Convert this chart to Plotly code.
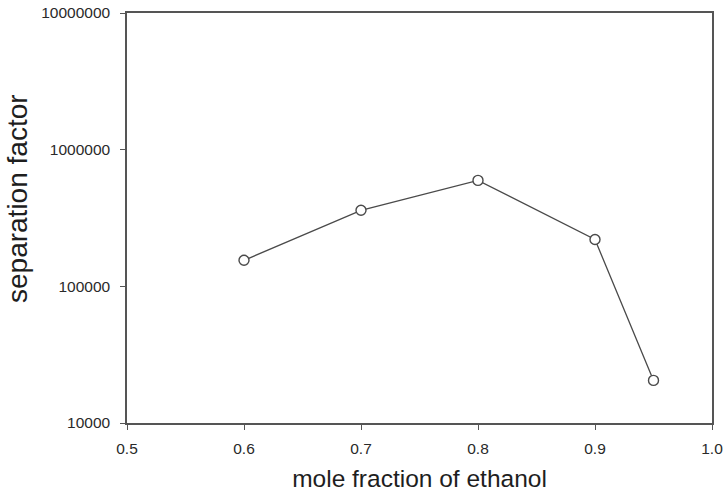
import plotly.graph_objects as go

# Data
mole_fraction = [0.6, 0.7, 0.8, 0.9, 0.95]
separation_factor = [155000, 360000, 596000, 220000, 20500]

x_ticks = [0.5, 0.6, 0.7, 0.8, 0.9, 1.0]
x_tick_labels = ["0.5", "0.6", "0.7", "0.8", "0.9", "1.0"]
y_ticks = [1e4, 1e5, 1e6, 1e7]
y_tick_labels = ["10000", "100000", "1000000", "10000000"]

x_title = "mole fraction of ethanol"
y_title = "separation factor"

FONT = "Liberation Sans, Arial, Helvetica, sans-serif"
AXIS_COLOR = "#555555"

fig = go.Figure()
fig.add_trace(go.Scatter(
    x=mole_fraction,
    y=separation_factor,
    mode="lines+markers",
    line=dict(color="#4a4a4a", width=1.3),
    marker=dict(symbol="circle", size=10, color="white",
                line=dict(color="#4a4a4a", width=1.4)),
    showlegend=False,
))

fig.update_layout(
    width=727, height=492,
    margin=dict(l=127, r=15, t=13, b=69, autoexpand=False),
    paper_bgcolor="white",
    plot_bgcolor="white",
    font=dict(family=FONT, color="#222222"),
    xaxis=dict(
        range=[0.5, 1.0],
        automargin=False,
        tickmode="array", tickvals=x_ticks, ticktext=x_tick_labels,
        ticks="outside", ticklen=5, tickwidth=1.2, tickcolor=AXIS_COLOR,
        showline=True, linecolor=AXIS_COLOR, linewidth=1.5, mirror=True,
        showgrid=False, zeroline=False,
        tickfont=dict(size=15.5, color="#2a2a2a"),
        ticklabelstandoff=6,
        title=dict(text=x_title, font=dict(size=24.5, color="#1e1e1e"), standoff=16),
    ),
    yaxis=dict(
        type="log",
        range=[4, 7],
        automargin=False,
        tickmode="array", tickvals=y_ticks, ticktext=y_tick_labels,
        ticks="outside", ticklen=5, tickwidth=1.2, tickcolor=AXIS_COLOR,
        showline=True, linecolor=AXIS_COLOR, linewidth=1.5, mirror=True,
        showgrid=False, zeroline=False,
        tickfont=dict(size=15.5, color="#2a2a2a"),
        ticklabelstandoff=7,
    ),
    annotations=[dict(
        text=y_title, textangle=-90,
        xref="paper", yref="paper",
        x=(18 - 127) / 585, y=(423 - 199) / 410,
        xanchor="center", yanchor="middle",
        showarrow=False,
        font=dict(size=28, color="#1e1e1e"),
    )],
)

fig.write_html("out.html")
